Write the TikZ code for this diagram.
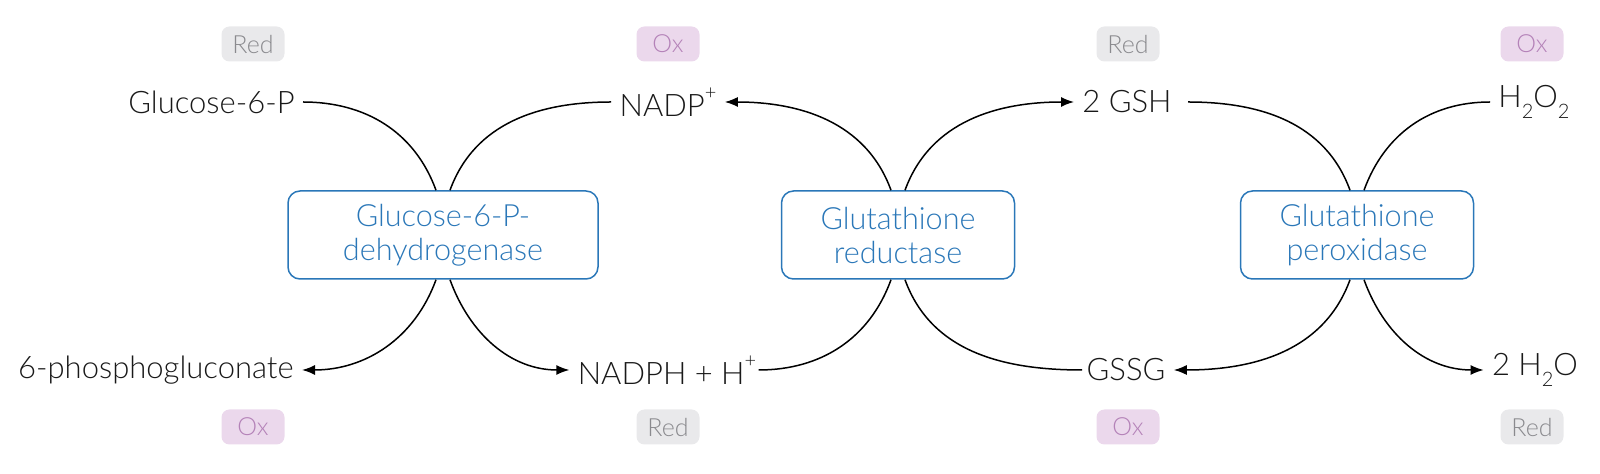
\documentclass[tikz,border=0pt]{standalone}
\usepackage{fontspec}
\setmainfont{Lato Light}
\usetikzlibrary{arrows.meta}
\definecolor{enzblue}{HTML}{2A77B8}
\definecolor{redfill}{HTML}{E9E9EB}
\definecolor{redtext}{HTML}{8A8A8E}
\definecolor{oxfill}{HTML}{EBD8EC}
\definecolor{oxtext}{HTML}{B482B8}
\newcommand{\chsup}[1]{\raisebox{1.1ex}{\fontsize{10}{10}\selectfont #1}}
\newcommand{\chsub}[1]{\raisebox{-0.7ex}{\fontsize{10}{10}\selectfont #1}}

\begin{document}
\begin{tikzpicture}[x=0.5pt,y=-0.5pt,
    enzyme/.style={draw=enzblue, text=enzblue, line width=0.75pt, rounded corners=6pt,
                   minimum height=44pt, align=center, font=\fontsize{15.3}{17}\selectfont},
    metab/.style={font=\fontsize{15.5}{17}\selectfont, text=black!90, inner sep=4pt},
    redtag/.style={fill=redfill, text=redtext, rounded corners=4pt, minimum width=31.5pt,
                   minimum height=17.5pt, font=\fontsize{12.5}{13}\selectfont},
    oxtag/.style={redtag, fill=oxfill, text=oxtext},
    link/.style={line width=0.75pt},
    arr/.style={link, -{Latex[length=6.5pt,width=5pt]}}
    ]
    \useasboundingbox (0,0) rectangle (1600,474);

    % enzymes
    \node[enzyme, minimum width=155pt] (g6pd) at (443,235) {Glucose-6-P-\\dehydrogenase};
    \node[enzyme, minimum width=116.5pt] (gr) at (898,235) {Glutathione\\reductase};
    \node[enzyme, minimum width=116.5pt] (gpx) at (1357,235) {Glutathione\\peroxidase};

    % substrates and products
    \node[metab, anchor=east] (gluc) at (303,102) {Glucose-6-P};
    \node[metab] (nadp) at (668,102) {NADP\chsup{+}};
    \node[metab] (gsh) at (1127,102) {2 GSH};
    \node[metab] (h2o2) at (1534,102) {H\chsub{2}O\chsub{2}};
    \node[metab, anchor=east] (pg) at (302,370) {6-phosphogluconate};
    \node[metab] (nadph) at (667,370) {NADPH + H\chsup{+}};
    \node[metab] (gssg) at (1126,370) {GSSG};
    \node[metab] (water) at (1535,370) {2 H\chsub{2}O};

    % redox tags
    \node[redtag] (t1) at (253,44) {Red};
    \node[oxtag] (t2) at (668,44) {Ox};
    \node[redtag] (t3) at (1128,44) {Red};
    \node[oxtag] (t4) at (1532,44) {Ox};
    \node[oxtag] (b1) at (253,427) {Ox};
    \node[redtag] (b2) at (668,427) {Red};
    \node[oxtag] (b3) at (1128,427) {Ox};
    \node[redtag] (b4) at (1532,427) {Red};

    % G6PD
    \draw[link] (gluc.east) to[out=0,in=110] ([xshift=-3.5pt]g6pd.north);
    \draw[link] (nadp.west) to[out=180,in=70] ([xshift=3.5pt]g6pd.north);
    \draw[arr] ([xshift=-3.5pt]g6pd.south) to[out=-110,in=0] (pg.east);
    \draw[arr] ([xshift=3.5pt]g6pd.south) to[out=-70,in=180] (nadph.west);
    % GR
    \draw[link] ([xshift=-3pt]nadph.east) to[out=0,in=-110] ([xshift=-3.5pt]gr.south);
    \draw[arr] ([xshift=-3.5pt]gr.north) to[out=110,in=0] (nadp.east);
    \draw[arr] ([xshift=3.5pt]gr.north) to[out=70,in=180] (gsh.west);
    \draw[link] ([xshift=3.5pt]gr.south) to[out=-70,in=180] ([xshift=2pt]gssg.west);
    % GPx
    \draw[link] ([xshift=4pt]gsh.east) to[out=0,in=110] ([xshift=-3.5pt]gpx.north);
    \draw[link] (h2o2.west) to[out=180,in=70] ([xshift=3.5pt]gpx.north);
    \draw[arr] ([xshift=-3.5pt]gpx.south) to[out=-110,in=0] (gssg.east);
    \draw[arr] ([xshift=3.5pt]gpx.south) to[out=-70,in=180] (water.west);
\end{tikzpicture}
\end{document}
